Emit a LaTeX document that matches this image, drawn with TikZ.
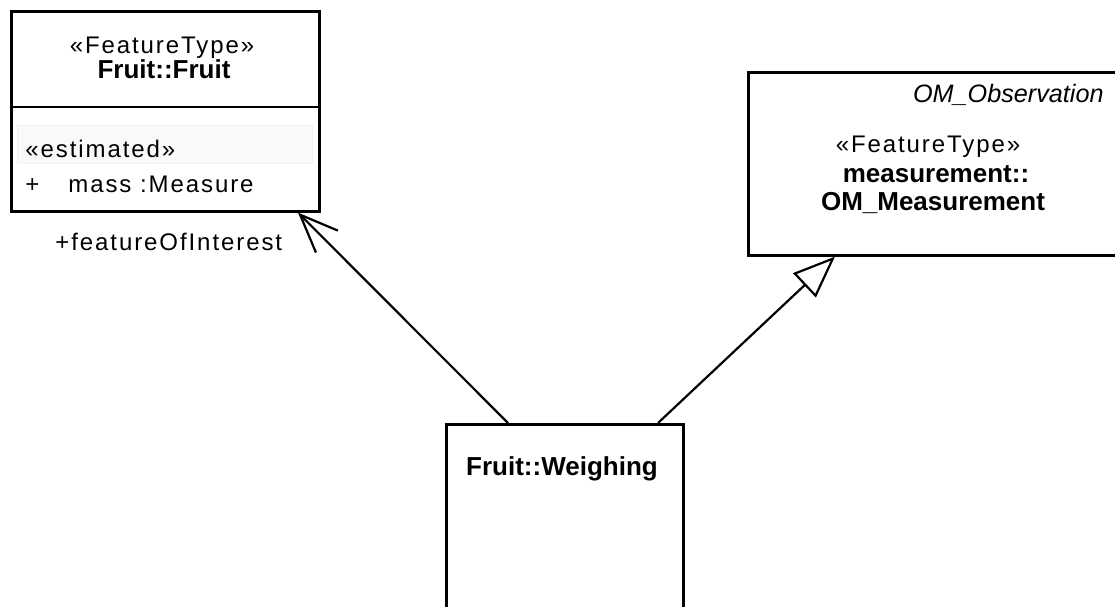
\documentclass[tikz,border=0pt]{standalone}
\usepackage{fontspec}
\setmainfont{Liberation Sans}
\usetikzlibrary{arrows.meta,calc}
\tikzset{
  umlbox/.style={draw=black, line width=1.3pt, fill=none, inner sep=0pt, anchor=north west},
  regtext/.style={inner sep=0pt, font=\fontsize{12}{14}\selectfont\addfontfeature{LetterSpace=8}},
  boldtext/.style={inner sep=0pt, font=\fontsize{13}{15}\selectfont\bfseries},
  itext/.style={inner sep=0pt, font=\fontsize{12.6}{15}\selectfont\itshape},
  conn/.style={draw=black, line width=1.1pt},
  assoc/.style={conn, -{Straight Barb[length=19pt, width=15.5pt, line width=1.1pt]}},
  general/.style={conn, -{Triangle[open, length=21pt, width=16.5pt, line width=1.1pt, fill=white]}},
}
\begin{document}
\begin{tikzpicture}[x=0.5pt, y=-0.5pt]
\useasboundingbox (0,0) rectangle (1115,606);
\fill[white] (0,0) rectangle (1115,606);
\clip (0,0) rectangle (1115,606);

% Fruit::Fruit
\node[umlbox, minimum width=154pt, minimum height=100pt] (fruit) at (10,10) {};
\draw[line width=1.3pt] (10,107) coordinate (divl) -- (318,107) coordinate (divr);
\fill[gray!5] (17,125) rectangle (312,163);
\draw[gray!10, line width=0.4pt] (17,125) rectangle (312,163);
\node[regtext, anchor=base] (fst) at (162,53) {«FeatureType»};
\node[boldtext, anchor=base] (fname) at (164,78) {Fruit::Fruit};
\node[regtext, anchor=base west] (est) at (25,157) {«estimated»};
\node[regtext, anchor=base west] (plus) at (25,192) {+};
\node[regtext, anchor=base west] (mass) at (68,192) {mass :Measure};

% OM_Measurement
\node[umlbox, minimum width=189pt, minimum height=91.5pt] (om) at (747,71) {};
\node[itext, anchor=base east] (obs) at (1104,102) {OM\_Observation};
\node[regtext, anchor=base] (omst) at (928,152) {«FeatureType»};
\node[boldtext, anchor=base] (omn1) at (936,182) {measurement::};
\node[boldtext, anchor=base] (omn2) at (933,210) {OM\_Measurement};

% Fruit::Weighing
\node[umlbox, minimum width=118.5pt, minimum height=100pt] (weigh) at (445,423) {};
\node[boldtext, anchor=base] (wname) at (562,475) {Fruit::Weighing};

% connectors
\coordinate (aS) at ($(weigh.north west)+(63,0)$);
\coordinate (aE) at ($(fruit.south west)+(288,0)$);
\draw[assoc] (aS) -- (aE);
\node[regtext, anchor=base west] (role) at (55,250) {+featureOfInterest};

\coordinate (gS) at ($(weigh.north west)+(213,0)$);
\coordinate (gE) at ($(om.south west)+(88,0)$);
\draw[general] (gS) -- (gE);
\end{tikzpicture}
\end{document}
